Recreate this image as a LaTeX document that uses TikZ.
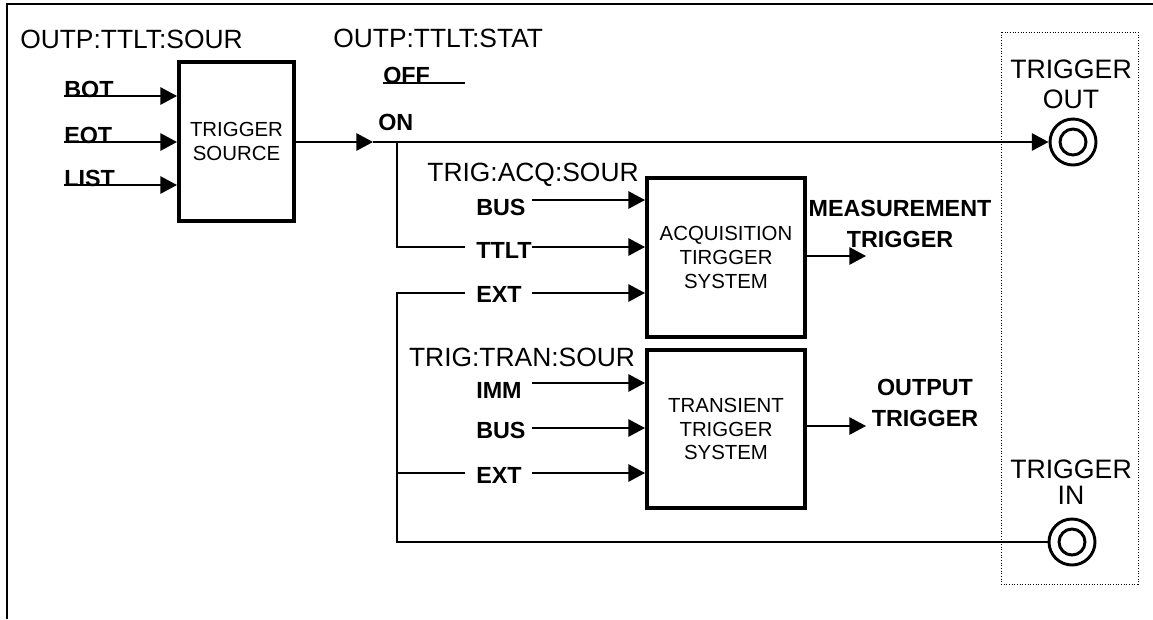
\documentclass[tikz,border=0pt]{standalone}
\usepackage{fontspec}
\setmainfont{Liberation Sans}
\usetikzlibrary{arrows.meta, positioning, calc}

\begin{document}
\begin{tikzpicture}[x=0.75pt, y=-0.75pt, >={Triangle[length=12.5pt,width=13pt]},
  wire/.style={line width=1.5pt},
  sig/.style={wire, ->},
  blk/.style={draw, line width=3pt, inner sep=0pt, align=center,
    font=\fontsize{15.3}{17.8}\selectfont},
  cmd/.style={font=\fontsize{19.8}{22}\selectfont, inner sep=0pt},
  lbl/.style={font=\fontsize{17.5}{23.5}\selectfont\bfseries, inner sep=0pt},
  jack/.style={circle, draw, line width=2.2pt, minimum size=34.5pt, inner sep=0pt,
    path picture={\draw[line width=2.2pt] (path picture bounding box.center) circle (9.75pt);}}]
  \useasboundingbox (0,0) rectangle (1153,619);
  %% frame and connector panel
  \draw[line width=1.8pt] (7,619) -- (7,4) -- (1153,4);
  \draw[line width=0.75pt, dash pattern=on 0.75pt off 1.25pt] (1001,32) rectangle (1138,584);

  %% trigger source
  \node[cmd, anchor=west] (srccmd) at (20,39) {OUTP:TTLT:SOUR};
  \node[blk, minimum width=86.25pt, minimum height=119.25pt] (src) at (236.5,141.5) {TRIGGER\\SOURCE};
  \foreach \name/\yy in {BOT/96, EOT/142, LIST/185}{
    \node[lbl, anchor=base west] (l\name) at (64,\yy+1) {\name};
    \coordinate (p\name) at (64,\yy);
    \draw[sig] (p\name) -- (p\name -| src.west);
  }

  %% output state
  \node[cmd, anchor=west] (statcmd) at (333,38) {OUTP:TTLT:STAT};
  \node[lbl, anchor=base west] (off) at (383,83) {OFF};
  \coordinate (offend) at (465,83);
  \draw[wire] (off.base west) -- (offend);
  \node[lbl, anchor=base west] (on) at (378,130) {ON};
  \coordinate (onpt) at (373,142);
  \node[jack] (tout) at (1073,142) {};
  \draw[sig] (src.east |- onpt) -- (onpt);
  \draw[sig] (onpt) -- (tout);
  \node[cmd, align=center, font=\fontsize{20}{22.5}\selectfont] (toutlbl) at (1071,84) {TRIGGER\\OUT};

  %% acquisition trigger
  \node[cmd] (acqcmd) at (533,175) {TRIG:ACQ:SOUR};
  \node[blk, minimum width=118.5pt, minimum height=119.25pt] (acq) at (726,257.5) {ACQUISITION\\TIRGGER\\SYSTEM};
  \foreach \name/\txt/\yy/\bb in {aibus/BUS/200/215, aittlt/TTLT/247/258, aiext/EXT/293/302}{
    \node[lbl, anchor=base west] (\name) at (476,\bb) {\txt};
    \coordinate (p\name) at (532,\yy);
    \draw[sig] (p\name) -- (p\name -| acq.west);
  }
  \coordinate (meastip) at (866,256);
  \draw[sig] (acq.east |- meastip) -- (meastip);
  \node[lbl, align=center] (meas) at (900,224) {MEASUREMENT\\TRIGGER};

  %% transient trigger
  \node[cmd] (trancmd) at (522,357) {TRIG:TRAN:SOUR};
  \node[blk, minimum width=118.5pt, minimum height=118.5pt] (tran) at (726,429) {TRANSIENT\\TRIGGER\\SYSTEM};
  \foreach \name/\txt/\yy/\bb in {tiimm/IMM/383/398, tibus/BUS/428/438, tiext/EXT/473/483}{
    \node[lbl, anchor=base west] (\name) at (476,\bb) {\txt};
    \coordinate (p\name) at (532,\yy);
    \draw[sig] (p\name) -- (p\name -| tran.west);
  }
  \coordinate (outtip) at (866,426);
  \draw[sig] (tran.east |- outtip) -- (outtip);
  \node[lbl, align=center] (outtrig) at (925,403) {OUTPUT\\TRIGGER};

  %% TTLT / EXT routing
  \coordinate (br) at (397,142);
  \coordinate (ttltstub) at (465,247);
  \draw[wire] (br) |- (ttltstub);
  \node[jack] (tin) at (1072,542) {};
  \node[cmd, align=center, font=\fontsize{20}{19.5}\selectfont] (tinlbl) at (1071,482) {TRIGGER\\IN};
  \coordinate (aextstub) at (465,293);
  \draw[wire] (aextstub) -| (br |- tin) -- (tin);
  \coordinate (textstub) at (465,473);
  \draw[wire] (br |- textstub) -- (textstub);
\end{tikzpicture}
\end{document}
